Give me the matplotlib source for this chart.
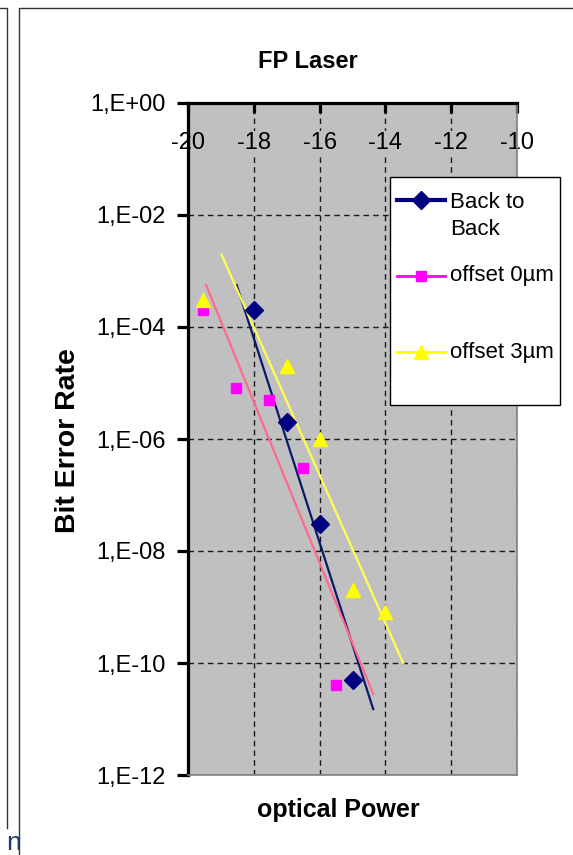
import math

import matplotlib
matplotlib.use("Agg")
import matplotlib.pyplot as plt
from matplotlib.lines import Line2D
from matplotlib.patches import Rectangle
from matplotlib.ticker import FixedLocator, FuncFormatter, NullLocator

plt.rcParams["font.family"] = ["Liberation Sans", "DejaVu Sans"]

# ── measured BER vs received optical power (dBm) ─────────────────────────────
b2b_power = [-18, -17, -16, -15]
b2b_ber   = [2e-4, 2e-6, 3e-8, 5e-11]

off0_power = [-19.55, -18.55, -17.55, -16.5, -15.5]
off0_ber   = [2e-4, 8e-6, 5e-6, 3e-7, 4e-11]

off3_power = [-19.55, -17, -16, -15, -14]
off3_ber   = [3e-4, 2e-5, 1e-6, 2e-9, 8e-10]

# exponential trendlines (end points)
b2b_fit_power  = [-18.52, -14.37]
b2b_fit_ber    = [5.6e-4, 1.5e-11]
off0_fit_power = [-19.45, -14.37]
off0_fit_ber   = [5.6e-4, 2.8e-11]
off3_fit_power = [-18.98, -13.46]
off3_fit_ber   = [1.95e-3, 1.0e-10]

x_ticks = [-20, -18, -16, -14, -12, -10]
y_exps  = [0, -2, -4, -6, -8, -10, -12]

NAVY, MAGENTA, YELLOW = "#000080", "#FF00FF", "#FFFF00"
TICK_FS = 17

W, H = 573, 855
fig = plt.figure(figsize=(W / 100, H / 100), dpi=100)

def fx(px):
    return px / W

def fy(py):
    return 1 - py / H

ax = fig.add_axes([fx(188), fy(775), (517 - 188) / W, (775 - 103) / H])
ax.set_facecolor("#C0C0C0")
ax.set_yscale("log")
ax.set_xlim(-20, -10)
ax.set_ylim(1e-12, 1)

for s in ("left", "top"):
    ax.spines[s].set_linewidth(2.3)
    ax.spines[s].set_color("black")
for s in ("right", "bottom"):
    ax.spines[s].set_linewidth(1.2)
    ax.spines[s].set_color("#808080")

# x axis sits on top, labels hang inside the plot area
ax.xaxis.set_ticks_position("top")
ax.set_xticks(x_ticks)
ax.set_xticklabels([str(v) for v in x_ticks])
ax.tick_params(axis="x", direction="in", length=7, width=2.3, pad=-37,
               labelsize=TICK_FS, labeltop=True, labelbottom=False,
               top=True, bottom=False)
for v, lbl in zip(x_ticks, ax.get_xticklabels()):
    if v not in (-20, -10):
        lbl.set_bbox(dict(facecolor="#C0C0C0", edgecolor="none", pad=1))

ax.yaxis.set_major_locator(FixedLocator([10.0 ** e for e in y_exps]))
ax.yaxis.set_minor_locator(NullLocator())
ax.yaxis.set_major_formatter(
    FuncFormatter(lambda v, _: "1,E{:+03d}".format(int(round(math.log10(v))))))
ax.tick_params(axis="y", direction="out", length=8, width=2.3, pad=8,
               labelsize=TICK_FS, left=True, right=False)

ax.grid(True, which="major", color="#1a1a1a", lw=1.0, ls=(0, (4, 3)))

# trendlines
ax.plot(b2b_fit_power, b2b_fit_ber, color="#0A1A6A", lw=1.6, zorder=3)
ax.plot(off0_fit_power, off0_fit_ber, color="#FF6A8C", lw=1.6, zorder=3)
ax.plot(off3_fit_power, off3_fit_ber, color="#FFFF50", lw=1.6, zorder=3)

# measurements
ax.plot(b2b_power, b2b_ber, ls="none", marker="D", ms=9, color=NAVY, zorder=4)
ax.plot(off0_power, off0_ber, ls="none", marker="s", ms=7.5, color=MAGENTA, zorder=4)
ax.plot(off3_power, off3_ber, ls="none", marker="^", ms=9.5, color=YELLOW, zorder=4)

# legend box
fig.add_artist(Rectangle((fx(390), fy(405)), (560 - 390) / W, (405 - 177) / H,
                         transform=fig.transFigure, facecolor="white",
                         edgecolor="black", lw=1.0, zorder=5))
entries = [(200, NAVY, "D", 9, 3.0),
           (276, MAGENTA, "s", 7.5, 2.0),
           (352, YELLOW, "^", 9.5, 2.0)]
for py, c, m, ms, lw in entries:
    fig.add_artist(Line2D([fx(397), fx(421), fx(445)], [fy(py)] * 3,
                          transform=fig.transFigure, color=c, lw=lw,
                          marker=m, ms=ms, markevery=[1], zorder=6))
fig.text(fx(450), fy(216), "Back to\nBack", fontsize=16, va="center",
         ha="left", linespacing=1.4, zorder=6)
fig.text(fx(450), fy(276), "offset 0µm", fontsize=16, va="center",
         ha="left", zorder=6)
fig.text(fx(450), fy(352), "offset 3µm", fontsize=16, va="center",
         ha="left", zorder=6)

# titles
fig.text(fx(308), fy(62), "FP Laser", fontsize=17, fontweight="bold",
         ha="center", va="center")
fig.text(fx(338), fy(810), "optical Power", fontsize=18, fontweight="bold",
         ha="center", va="center")
fig.text(fx(68), fy(441), "Bit Error Rate", fontsize=20.5, fontweight="bold",
         ha="center", va="center", rotation=90)

# chart frame and neighbouring slide edge
fig.add_artist(Line2D([fx(19), fx(19), fx(580)], [fy(860), fy(8), fy(8)],
                      transform=fig.transFigure, color="#333333", lw=1.0))
fig.add_artist(Line2D([fx(-2), fx(7), fx(7)], [fy(8), fy(8), fy(828)],
                      transform=fig.transFigure, color="#333333", lw=1.0))
fig.text(fx(6), fy(855), "n", fontsize=19, color="#1F3A6E", ha="left",
         va="bottom", family=["Liberation Sans Narrow", "Liberation Sans"])

fig.savefig("out.png", dpi=100)
